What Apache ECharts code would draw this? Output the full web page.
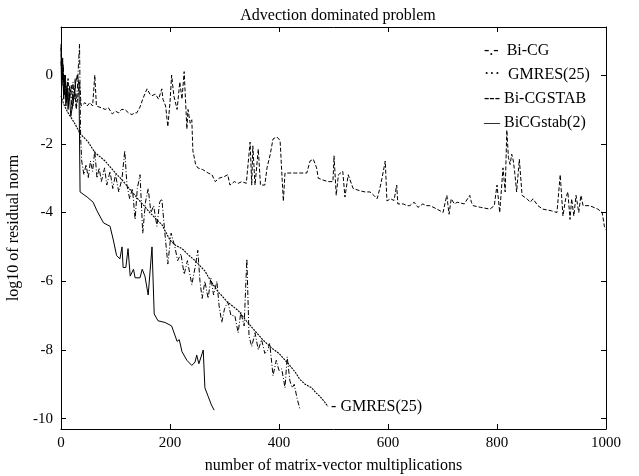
<!DOCTYPE html>
<html><head><meta charset="utf-8">
<script src="https://cdn.jsdelivr.net/npm/echarts@6/dist/echarts.min.js"></script>
<style>html,body{margin:0;padding:0;background:#fff}#c{width:639px;height:476px}</style>
</head><body><div id="c"></div>
<script>
const titleText = 'Advection dominated problem';
const xName = 'number of matrix-vector multiplications';
const yName = 'log10 of residual norm';
const xTicks = [0, 200, 400, 600, 800, 1000];
const yTicks = [-10, -8, -6, -4, -2, 0];
const names = ['Bi-CG', 'GMRES(25)', 'Bi-CGSTAB', 'BiCGstab(2)'];
const legendMarks = ['-.-  ', '···  ', '--- ', '— '];

const bicg = [[0,0.4],[2,-0.3],[4,0.2],[6,-0.6],[8,-0.1],[10,-0.8],[12,-0.2],[14,-0.9],[16,-0.3],[18,-0.5],[20,-1.0],[22,-0.2],[24,-0.7],[26,-0.1],[28,-0.9],[30,-0.4],[32,0.3],[34,0.9],[36,-1.8],[38,-2.5],[42,-2.9],[46,-2.6],[50,-3.0],[54,-2.5],[58,-2.8],[62,-2.2],[66,-3.0],[70,-2.7],[74,-3.1],[80,-2.7],[84,-3.2],[90,-2.8],[95,-3.3],[100,-2.9],[106,-3.4],[112,-3.0],[117,-2.2],[121,-3.2],[126,-3.6],[131,-3.3],[136,-4.2],[140,-3.3],[145,-2.9],[150,-4.6],[155,-3.7],[160,-3.3],[165,-4.0],[170,-3.8],[176,-4.4],[181,-3.7],[185,-3.6],[190,-4.5],[196,-5.5],[202,-4.6],[209,-5.0],[214,-5.4],[220,-5.2],[226,-5.8],[232,-5.4],[240,-6.1],[246,-5.6],[251,-5.1],[255,-6.0],[259,-6.5],[264,-6.0],[270,-6.5],[275,-5.9],[280,-6.4],[286,-6.0],[290,-6.7],[295,-7.2],[300,-6.8],[306,-6.6],[312,-7.0],[319,-7.0],[325,-7.5],[330,-6.9],[336,-7.3],[341,-5.35],[345,-7.6],[350,-7.9],[356,-7.5],[362,-8.0],[368,-7.7],[374,-8.1],[380,-8.0],[383,-7.8],[389,-8.75],[395,-8.3],[400,-8.6],[405,-8.55],[411,-9.1],[415,-8.2],[420,-8.9],[424,-9.1],[428,-9.0],[433,-9.4],[438,-9.7]];

const gmres = [[0,-0.6],[5,-0.85],[13,-1.1],[25,-1.4],[35,-1.7],[50,-1.95],[62,-2.25],[81,-2.5],[100,-2.85],[112,-3.05],[125,-3.3],[141,-3.6],[155,-3.85],[163,-4.0],[175,-4.2],[185,-4.35],[200,-4.8],[210,-4.95],[222,-5.05],[235,-5.25],[246,-5.4],[255,-5.55],[264,-5.7],[275,-6.0],[288,-6.3],[305,-6.6],[325,-6.85],[340,-7.15],[356,-7.45],[370,-7.7],[387,-7.95],[400,-8.1],[417,-8.4],[430,-8.65],[438,-8.85],[448,-9.0],[460,-9.1],[468,-9.25],[475,-9.35],[483,-9.5],[490,-9.65]];

const bicgstab = [[0,0.8],[2,-0.2],[4,0.3],[6,-0.5],[8,0.0],[10,-0.6],[13,-0.1],[16,-0.7],[19,-0.3],[22,-0.9],[25,-0.4],[28,-1.0],[31,-0.6],[34,-0.2],[37,-0.9],[40,-0.9],[44,-0.8],[48,-0.9],[53,-0.8],[58,-0.9],[62,0.0],[65,-0.9],[68,-0.85],[74,-0.95],[81,-1.0],[87,-0.95],[94,-1.13],[100,-1.05],[106,-1.1],[111,-1.0],[117,-1.0],[124,-1.1],[130,-1.15],[135,-1.1],[139,-1.1],[145,-0.93],[150,-0.7],[155,-0.5],[158,-0.4],[163,-0.55],[167,-0.6],[173,-0.55],[179,-0.7],[185,-0.4],[187,-0.7],[192,-0.9],[196,-1.5],[200,-0.8],[203,0.0],[207,-0.6],[213,-1.0],[218,-0.2],[222,-0.7],[226,0.1],[231,-1.57],[233,-1.0],[237,-1.4],[240,-1.3],[242,-2.2],[247,-2.6],[251,-2.7],[260,-2.75],[270,-2.85],[277,-2.9],[283,-3.1],[290,-3.0],[300,-2.95],[306,-2.9],[310,-3.2],[318,-3.1],[325,-3.15],[332,-3.1],[340,-3.15],[347,-1.95],[350,-3.2],[352,-2.06],[356,-3.2],[362,-2.15],[366,-3.2],[374,-3.2],[378,-2.7],[384,-2.3],[389,-1.86],[396,-1.8],[402,-1.9],[405,-2.8],[408,-3.67],[411,-2.85],[420,-2.85],[430,-2.85],[440,-2.85],[451,-2.85],[457,-2.5],[463,-2.45],[469,-2.7],[472,-3.0],[480,-3.05],[490,-3.1],[499,-3.1],[501,-2.35],[505,-3.5],[509,-2.9],[517,-2.8],[521,-3.55],[527,-2.9],[536,-3.3],[549,-3.37],[558,-3.4],[567,-3.4],[574,-3.5],[580,-3.6],[585,-3.3],[589,-3.0],[595,-2.5],[598,-3.66],[605,-3.6],[611,-3.65],[616,-3.2],[618,-3.75],[628,-3.75],[635,-3.8],[640,-3.8],[648,-3.7],[655,-3.85],[664,-3.75],[670,-3.8],[677,-3.8],[690,-3.9],[701,-4.0],[705,-3.7],[708,-3.5],[712,-4.05],[716,-3.6],[722,-3.75],[727,-3.7],[740,-3.75],[750,-3.5],[753,-3.7],[756,-3.8],[770,-3.85],[787,-3.9],[795,-3.8],[800,-3.2],[805,-4.0],[811,-2.7],[815,-3.4],[818,-1.6],[821,-2.4],[824,-2.6],[827,-2.3],[830,-2.5],[833,-2.9],[836,-3.4],[841,-2.45],[846,-3.5],[855,-3.6],[861,-3.7],[866,-3.6],[875,-3.8],[884,-3.9],[900,-3.95],[910,-4.0],[916,-2.9],[921,-4.1],[926,-3.6],[930,-3.4],[934,-4.2],[937,-3.6],[941,-4.1],[945,-3.5],[950,-4.0],[954,-3.5],[958,-3.8],[970,-3.8],[985,-3.9],[993,-4.0],[997,-4.4],[1000,-4.5]];

const bicgstab2 = [[0,0.9],[1,-0.5],[3,0.5],[5,-0.7],[7,0.0],[9,-0.9],[11,-0.3],[13,-1.0],[15,-0.5],[18,-1.2],[20,-1.2],[24,-0.6],[27,-0.2],[30,0.0],[33,-0.3],[35,-3.4],[38,-3.4],[48,-3.55],[59,-3.7],[66,-3.95],[78,-4.3],[90,-4.4],[96,-4.8],[102,-5.25],[108,-5.35],[112,-5.0],[114,-5.6],[119,-5.6],[123,-5.05],[127,-5.85],[133,-5.65],[136,-5.9],[145,-5.9],[149,-5.65],[154,-5.85],[160,-6.4],[163,-6.4],[167,-5.0],[171,-6.95],[178,-7.15],[191,-7.2],[203,-7.3],[213,-7.75],[217,-7.7],[222,-8.05],[231,-8.3],[240,-8.45],[246,-8.35],[249,-8.15],[253,-8.4],[261,-8.0],[264,-9.1],[270,-9.35],[276,-9.6],[281,-9.75]];

const serif = '"Liberation Serif", "DejaVu Serif", serif';
const chart = echarts.init(document.getElementById('c'), null, {renderer: 'canvas'});
const axisLine = {show: true, onZero: false, lineStyle: {color: '#000', width: 1}};
const tick = {show: true, inside: true, length: 5, lineStyle: {color: '#000'}};
const yMin = -10.3, yMax = 1.4;
const base = {type: 'line', showSymbol: false, symbol: 'none', animation: false, z: 3};
const data = [bicg, gmres, bicgstab, bicgstab2];
const styles = [
  {type: [5, 2, 1, 2], width: 1},
  {type: [2, 1], width: 1.1},
  {type: [4, 2], width: 1},
  {type: 'solid', width: 1}
];
const series = names.map((n, i) => Object.assign({}, base, {
  name: n, data: data[i], xAxisIndex: 0, yAxisIndex: 0,
  lineStyle: Object.assign({color: '#000'}, styles[i]),
  itemStyle: {color: '#000'},
  endLabel: i === 1 ? {show: true, formatter: '- GMRES(25)', fontFamily: serif, fontSize: 16, color: '#000', distance: 3} : undefined
}));
chart.setOption({
  backgroundColor: '#fff',
  title: {text: titleText, left: 333, textAlign: 'center', top: 3, textStyle: {fontFamily: serif, fontSize: 16, fontWeight: 'normal', color: '#000'}},
  legend: {
    data: names, left: 474, top: 38, orient: 'vertical', itemGap: 8, icon: 'none', itemWidth: 0, itemHeight: 16,
    selectedMode: false,
    formatter: (n) => legendMarks[names.indexOf(n)] + n,
    textStyle: {fontFamily: serif, fontSize: 16, color: '#000'}
  },
  grid: {left: 61, right: 33, top: 27, bottom: 47, containLabel: false, outerBoundsMode: 'none', show: false},
  xAxis: [
    {type: 'value', min: 0, max: 1000, interval: 200, position: 'bottom', axisLine, axisTick: tick, splitLine: {show: false},
     name: xName, nameLocation: 'middle', nameGap: 29, nameTextStyle: {fontFamily: serif, fontSize: 16, color: '#000'},
     axisLabel: {color: '#000', fontFamily: serif, fontSize: 15, margin: 7, formatter: (v) => String(v)}},
    {type: 'value', min: 0, max: 1000, interval: 200, position: 'top', axisLine, axisTick: tick, splitLine: {show: false}, axisLabel: {show: false}}
  ],
  yAxis: [
    {type: 'value', min: yMin, max: yMax, position: 'left', axisLine, splitLine: {show: false},
     axisTick: Object.assign({customValues: yTicks}, tick),
     axisLabel: {customValues: yTicks, color: '#000', fontFamily: serif, fontSize: 15, margin: 8},
     name: yName, nameLocation: 'middle', nameGap: 37, nameRotate: 90, nameTextStyle: {fontFamily: serif, fontSize: 16, color: '#000'}},
    {type: 'value', min: yMin, max: yMax, position: 'right', axisLine, splitLine: {show: false},
     axisTick: Object.assign({customValues: yTicks}, tick), axisLabel: {show: false}}
  ],
  series
});
</script></body></html>
